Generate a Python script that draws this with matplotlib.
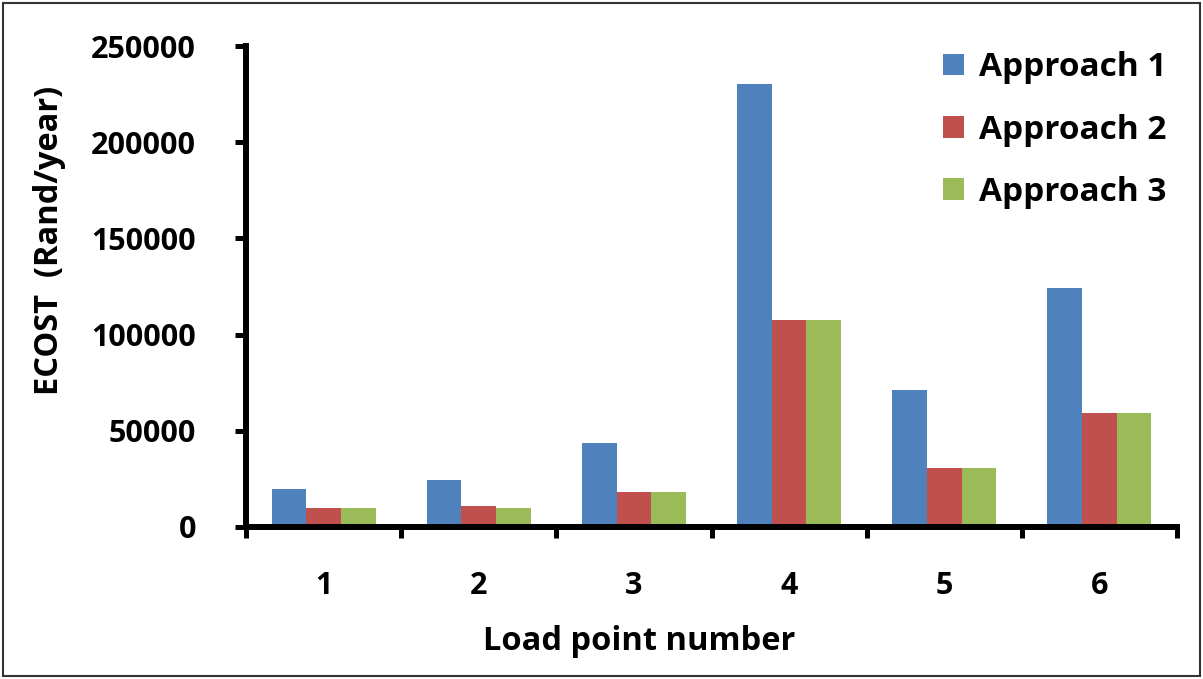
import matplotlib
matplotlib.use("Agg")
import matplotlib.pyplot as plt
from matplotlib.patches import Rectangle
import numpy as np

# Data
load_points = ["1", "2", "3", "4", "5", "6"]
approach_1 = [19600, 24400, 43500, 230000, 71200, 124200]
approach_2 = [10000, 11000, 18300, 107500, 30500, 59300]
approach_3 = [10000, 10000, 18300, 107500, 30500, 59300]
series_names = ["Approach 1", "Approach 2", "Approach 3"]
y_ticks = [0, 50000, 100000, 150000, 200000, 250000]

colors = ["#4F81BD", "#C0504D", "#9BBB59"]

plt.rcParams["font.family"] = ["Open Sans", "DejaVu Sans"]
plt.rcParams["font.weight"] = "bold"

W, H = 1203, 679
fig = plt.figure(figsize=(W / 100, H / 100), dpi=100)
ax = fig.add_axes([246 / W, 1 - 527 / H, 931 / W, 481 / H])

x = np.arange(1, len(load_points) + 1)
bw = 0.2235
for i, (vals, name) in enumerate(zip([approach_1, approach_2, approach_3], series_names)):
    ax.bar(x + (i - 1) * bw, vals, width=bw, color=colors[i], label=name,
           edgecolor="none", zorder=2)

ax.set_xlim(0.5, len(load_points) + 0.5)
ax.set_ylim(0, 250000)

# Spines
for s in ["top", "right"]:
    ax.spines[s].set_visible(False)
for s in ["left", "bottom"]:
    ax.spines[s].set_linewidth(4.3)
    ax.spines[s].set_color("black")
    ax.spines[s].set_capstyle("projecting")

tick_fs = 22
label_fs = 23.5
legend_fs = 24

ax.set_yticks(y_ticks)
ax.set_yticklabels([str(v) for v in y_ticks], fontsize=tick_fs, fontweight="bold")
ax.tick_params(axis="y", direction="out", length=8, width=3.6, pad=28)

# Category boundaries as major ticks, labels on minor ticks at centers
ax.set_xticks(np.arange(0.5, len(load_points) + 1, 1.0))
ax.set_xticklabels([])
ax.tick_params(axis="x", which="major", direction="out", length=8, width=3.6)
ax.set_xticks(x, minor=True)
ax.set_xticklabels(load_points, minor=True, fontsize=tick_fs, fontweight="bold")
ax.tick_params(axis="x", which="minor", length=0, pad=32)

ax.set_xlabel("Load point number", fontsize=label_fs, fontweight="bold")
ax.xaxis.set_label_coords((639 - 246) / 931, -(642 - 527) / 481)
ax.xaxis.label.set_va("center")
ax.set_ylabel("ECOST  (Rand/year)", fontsize=label_fs, fontweight="bold")
ax.yaxis.set_label_coords(-(246 - 50) / 931, (527 - 240) / 481)
ax.yaxis.label.set_va("center")

leg = ax.legend(loc="upper left", bbox_to_anchor=(930 / W, 1 - 38 / H),
                bbox_transform=fig.transFigure, frameon=False,
                prop={"size": legend_fs, "weight": "bold"},
                handlelength=0.62, handleheight=0.62, handletextpad=0.45,
                labelspacing=0.88, borderaxespad=0)

# Outer border
fig.patches.append(Rectangle((3 / W, 3 / H), 1 - 6 / W, 1 - 6 / H,
                             transform=fig.transFigure, fill=False,
                             edgecolor="#333333", linewidth=1.5))

fig.savefig("out.png", dpi=100)
